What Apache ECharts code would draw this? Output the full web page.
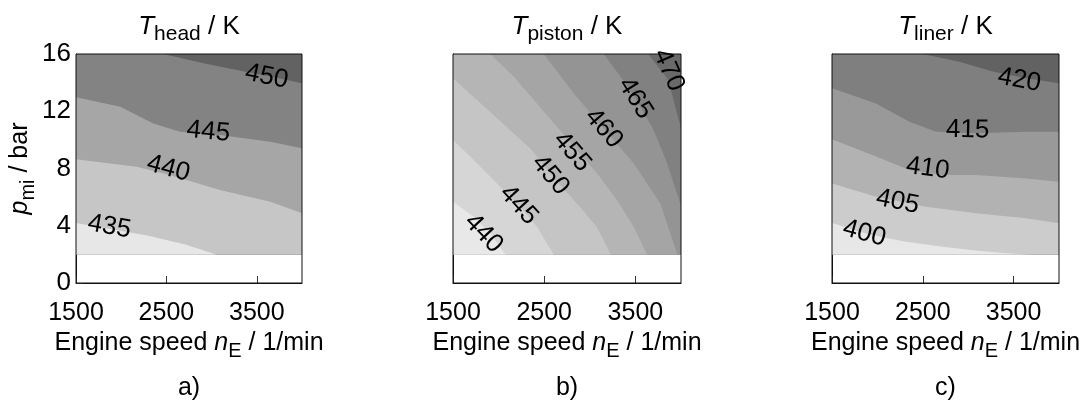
<!DOCTYPE html>
<html><head><meta charset="utf-8">
<script src="https://cdn.jsdelivr.net/npm/echarts@6/dist/echarts.min.js"></script>
<style>html,body{margin:0;padding:0;background:#fff}#c{width:1090px;height:403px}</style>
</head><body><div id="c"></div>
<script>
// ---------- data ----------
const speedTicks = [1500, 2500, 3500];
const speedRange = [1500, 4000];
const pressureTicks = [0, 4, 8, 12, 16];
const pressureMeasuredMin = 2;   // lowest measured load (white below)

// Panel a: T_head / K  (contour boundaries as [speed, pmi])
const headLevels = [435, 440, 445, 450];
const head435 = [[1500,4.2],[1900,3.75],[2300,3.3],[2700,2.7],[3050,2.0],[4000,2.0]];
const head440 = [[1500,8.64],[2170,8.13],[2540,7.54],[3090,6.5],[3650,5.68],[4000,4.87]];
const head445 = [[1500,12.97],[1990,12.32],[2355,11.15],[2650,10.57],[3090,10.34],[3650,9.87],[4000,9.41]];
const head450 = [[1500,16],[2466,16],[2910,15.35],[3280,14.88],[3650,14.42],[4000,13.95]];
const headLabels = [[1869,3.93,435],[2521,8.0,440],[2964,10.57,445],[3609,14.42,450]];

// Panel b: T_piston / K
const pistonLevels = [440, 445, 450, 455, 460, 465, 470];
const piston440 = [[1500,5.68],[1727,4.63],[1909,3.47],[2074,2.0],[4000,2.0]];
const piston445 = [[1500,10.0],[1727,8.6],[1982,6.96],[2238,5.33],[2421,3.93],[2604,2.0],[4000,2.0]];
const piston450 = [[1500,14.3],[1727,13.0],[2019,11.3],[2348,9.4],[2640,7.1],[2896,5.3],[3079,3.9],[3230,2.0],[4000,2.0]];
const piston455 = [[1500,16],[1909,16],[2165,14.42],[2421,12.55],[2640,10.92],[2860,9.29],[3079,7.66],[3298,5.8],[3481,3.93],[3627,2.0],[4000,2.0]];
const piston460 = [[1500,16],[2494,16],[2823,13.25],[3152,10.8],[3481,8.36],[3773,5.56],[3960,2.0],[4000,2.0]];
const piston465 = [[1500,16],[3152,16],[3335,14.42],[3500,12.9],[3700,10.69],[3846,8.4],[4000,5.4]];
const piston470 = [[1500,16],[3640,16],[3860,14.2],[4000,10.8]];
const pistonLabels = [[1836,3.47,440],[2220,5.45,445],[2567,7.54,450],[2805,9.17,455],[3152,10.8,460],[3499,12.9,465],[3865,14.88,470]];

// Panel c: T_liner / K
const linerLevels = [400, 405, 410, 415, 420];
const liner400 = [[1500,4.2],[1900,3.4],[2300,2.9],[2700,2.55],[3100,2.25],[3500,2.05],[3700,2.0],[4000,2.0]];
const liner405 = [[1500,6.96],[1985,6.03],[2535,5.33],[3086,4.87],[3636,4.52],[4000,4.17]];
const liner410 = [[1500,10.04],[1985,8.83],[2352,7.9],[2719,7.55],[3086,7.55],[3636,7.31],[4000,7.08]];
const liner415 = [[1500,13.6],[1985,12.55],[2352,11.27],[2646,10.57],[3086,10.46],[3636,10.57],[4000,10.57]];
const liner420 = [[1500,16],[2499,16],[2902,15.46],[3270,14.77],[3636,14.3],[4000,13.95]];
const linerLabels = [[1856,3.47,400],[2223,5.68,405],[2554,8.0,410],[2994,10.69,415],[3563,14.18,420]];

const panelNames = ['a)', 'b)', 'c)'];

// ---------- styles ----------
const FONT = '"Liberation Sans", Arial, Helvetica, sans-serif';
const headColors   = ['#e7e7e7','#c6c6c6','#a6a6a6','#838383','#626262'];
const pistonColors = ['#e8e8e8','#d6d6d6','#c5c5c5','#b5b5b5','#a5a5a5','#949494','#818181','#6a6a6a'];
const linerColors  = ['#e7e7e7','#cccccc','#b2b2b2','#999999','#7f7f7f','#626262'];

const grids = [
  {left: 76,  top: 54, width: 226, height: 229},
  {left: 453, top: 54, width: 228, height: 229},
  {left: 832, top: 54, width: 227, height: 229}
];

function yAt(b, x) {
  if (x <= b[0][0]) return b[0][1];
  for (let i = 0; i < b.length - 1; i++) {
    if (x >= b[i][0] && x <= b[i+1][0]) {
      const t = (x - b[i][0]) / (b[i+1][0] - b[i][0]);
      return b[i][1] + t * (b[i+1][1] - b[i][1]);
    }
  }
  return b[b.length-1][1];
}

const pTop = pressureTicks[pressureTicks.length - 1];

function panelSeries(idx, levels, bounds, colors, labels) {
  const out = [];
  out.push({
    type: 'line', xAxisIndex: idx, yAxisIndex: idx, silent: true,
    data: [[speedRange[0], pTop], [speedRange[1], pTop]],
    showSymbol: false, lineStyle: {width: 0},
    areaStyle: {color: colors[colors.length-1], opacity: 1, origin: pressureMeasuredMin},
    z: 1
  });
  for (let i = bounds.length - 1; i >= 0; i--) {
    out.push({
      type: 'line', xAxisIndex: idx, yAxisIndex: idx, silent: true,
      data: bounds[i], showSymbol: false, lineStyle: {width: 0},
      areaStyle: {color: colors[i], opacity: 1, origin: pressureMeasuredMin},
      z: 2 + (bounds.length - i)
    });
  }
  const byLevel = {};
  levels.forEach((lv, i) => byLevel[lv] = bounds[i]);
  out.push({
    type: 'custom', xAxisIndex: idx, yAxisIndex: idx, coordinateSystem: 'cartesian2d',
    clip: false, silent: true, z: 20,
    data: labels, encode: {x: 0, y: 1},
    renderItem: function (params, api) {
      const x = api.value(0), y = api.value(1), v = api.value(2);
      const b = byLevel[v];
      const x1 = Math.max(speedRange[0], x - 200), x2 = Math.min(speedRange[1], x + 200);
      const p1 = api.coord([x1, yAt(b, x1)]), p2 = api.coord([x2, yAt(b, x2)]);
      const ang = -Math.atan2(p2[1] - p1[1], p2[0] - p1[0]);
      const p = api.coord([x, y]);
      return {
        type: 'text', x: p[0], y: p[1], rotation: ang,
        style: {text: String(v), fill: '#000', fontSize: 26, fontFamily: FONT,
                align: 'center', verticalAlign: 'middle'}
      };
    }
  });
  return out;
}

const nameRich = {
  a: {fontSize: 25, fontFamily: FONT, color: '#000', lineHeight: 36},
  i: {fontSize: 25, fontFamily: FONT, color: '#000', fontStyle: 'italic', lineHeight: 36},
  s: {fontSize: 20, fontFamily: FONT, color: '#000', lineHeight: 20, verticalAlign: 'bottom'}
};

const xAxes = grids.map((g, i) => ({
  type: 'value', gridIndex: i, min: speedRange[0], max: speedRange[1], interval: 1000,
  name: '{a|Engine speed }{i|n}{s|E}{a| / 1/min}',
  nameLocation: 'middle', nameGap: 34,
  nameTextStyle: {rich: nameRich},
  axisLine: {show: true, onZero: false, lineStyle: {color: '#111', width: 1}},
  axisTick: {show: true, inside: true, length: 7, lineStyle: {color: '#333', width: 1}},
  axisLabel: {show: true, showMaxLabel: false, margin: 17, fontSize: 25, lineHeight: 26,
              fontFamily: FONT, color: '#000',
              formatter: v => speedTicks.indexOf(v) >= 0 ? String(v) : ''},
  splitLine: {show: false}
}));

const yAxes = grids.map((g, i) => ({
  type: 'value', gridIndex: i, min: pressureTicks[0], max: pTop, interval: 4,
  name: i === 0 ? '{i|p}{s|mi}{a| / bar}' : '',
  nameLocation: 'middle', nameGap: 35,
  nameTextStyle: {rich: nameRich},
  axisLine: {show: true, onZero: false, lineStyle: {color: '#111', width: 1}},
  axisTick: {show: i === 0, inside: true, length: 7, lineStyle: {color: '#333', width: 1}},
  axisLabel: {show: i === 0, margin: 5, fontSize: 26, fontFamily: FONT, color: '#000'},
  splitLine: {show: false}
}));

const titleRich = {
  t: {fontSize: 26, fontFamily: FONT, color: '#000', fontStyle: 'italic', fontWeight: 'normal', lineHeight: 36},
  s: {fontSize: 21, fontFamily: FONT, color: '#000', fontWeight: 'normal', lineHeight: 20, verticalAlign: 'bottom'},
  n: {fontSize: 26, fontFamily: FONT, color: '#000', fontWeight: 'normal', lineHeight: 36}
};
const titleTexts = ['{t|T}{s|head}{n| / K}', '{t|T}{s|piston}{n| / K}', '{t|T}{s|liner}{n| / K}'];

const titles = [];
grids.forEach((g, i) => {
  const cx = g.left + g.width / 2;
  titles.push({text: titleTexts[i], left: cx, top: 9, textAlign: 'center', padding: 0,
               textStyle: {fontWeight: 'normal', rich: titleRich}});
  titles.push({text: panelNames[i], left: cx, top: 374, textAlign: 'center', padding: 0,
               textStyle: {fontSize: 25, fontFamily: FONT, color: '#000', fontWeight: 'normal', lineHeight: 28}});
});

const option = {
  animation: false,
  backgroundColor: '#fff',
  title: titles,
  grid: grids.map(g => Object.assign({show: true, borderColor: '#111', borderWidth: 1,
        backgroundColor: 'transparent', z: 30, containLabel: false, outerBoundsMode: 'none'}, g)),
  xAxis: xAxes,
  yAxis: yAxes,
  series: [].concat(
    panelSeries(0, headLevels, [head435, head440, head445, head450], headColors, headLabels),
    panelSeries(1, pistonLevels, [piston440, piston445, piston450, piston455, piston460, piston465, piston470], pistonColors, pistonLabels),
    panelSeries(2, linerLevels, [liner400, liner405, liner410, liner415, liner420], linerColors, linerLabels)
  )
};

const chart = echarts.init(document.getElementById('c'), null, {renderer: 'canvas'});
chart.setOption(option);
</script>
</body></html>
